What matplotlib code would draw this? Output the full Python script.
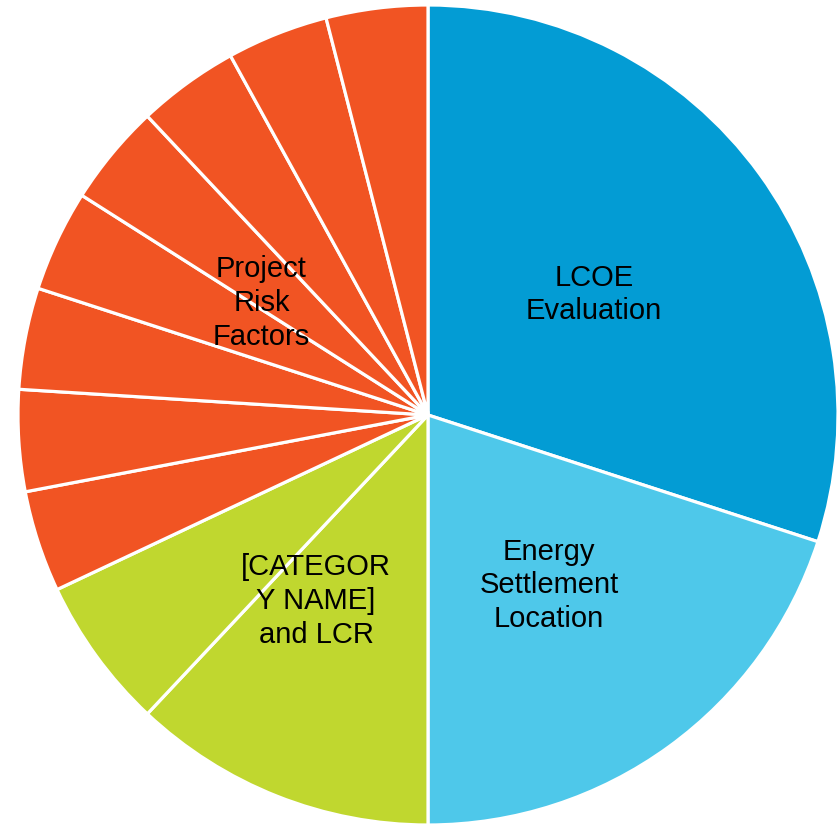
import numpy as np
import matplotlib.pyplot as plt

plt.rcParams['font.family'] = ['Liberation Sans', 'DejaVu Sans']

# Доли сегментов (по часовой стрелке от 12 часов)
values = [30, 20, 12, 6, 4, 4, 4, 4, 4, 4, 4, 4]
colors = ['#039CD4', '#4EC8EA', '#C0D72F', '#C0D72F'] + ['#F15423'] * 8

# Подписи: текст, угол (градусы), радиус
label_text = ['LCOE\nEvaluation', 'Energy\nSettlement\nLocation',
              '[CATEGOR\nY NAME]\nand LCR', 'Project\nRisk\nFactors']
label_angle = [36, -54.6, -121, 146]
label_radius = [0.50, 0.51, 0.53, 0.49]

fig = plt.figure(figsize=(8.4, 8.25), dpi=100)
ax = fig.add_axes([0, 0, 1, 1])
ax.pie(values, colors=colors, startangle=90, counterclock=False, radius=1,
       wedgeprops=dict(edgecolor='white', linewidth=2.3))

for t, a, r in zip(label_text, label_angle, label_radius):
    x = r * np.cos(np.radians(a))
    y = r * np.sin(np.radians(a))
    ax.text(x, y, t, ha='center', va='center', fontsize=21, linespacing=1.27)

ax.set_xlim(-428 / 410, 412 / 410)
ax.set_ylim(-1, 415 / 410)
ax.set_aspect('equal')
ax.axis('off')

plt.savefig('out.png', dpi=100)
